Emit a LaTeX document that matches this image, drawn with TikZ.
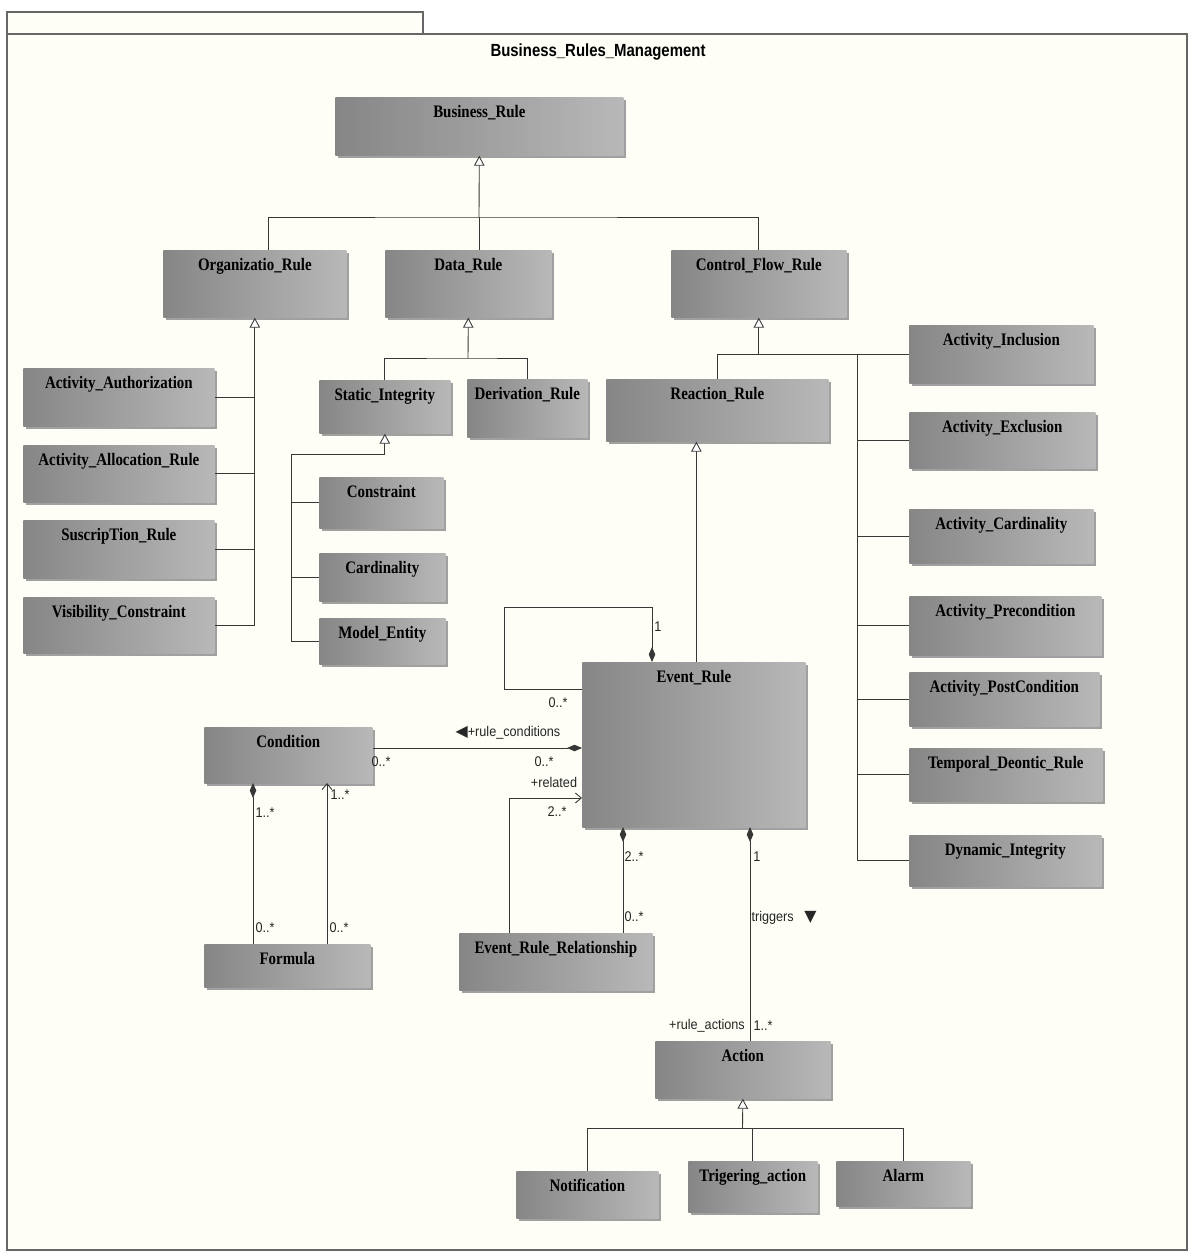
\documentclass[tikz,border=0pt]{standalone}
\usepackage{fontspec}
\usepackage{tikz}
\usetikzlibrary{arrows.meta}
\usetikzlibrary{shadows}

\newfontfamily\boxfont[FakeStretch=0.85]{Liberation Serif}
\newfontfamily\mulfont[FakeStretch=0.9]{Liberation Sans}
\newfontfamily\titlefont[FakeStretch=0.85]{Liberation Sans}
\newfontfamily\symfont{DejaVu Sans}

\definecolor{pagebg}{RGB}{254,254,246}
\definecolor{boxdark}{RGB}{134,134,134}
\definecolor{boxlight}{RGB}{184,184,184}
\definecolor{boxshade}{RGB}{160,160,160}
\definecolor{linegray}{RGB}{55,55,55}

\begin{document}
\begin{tikzpicture}[x=0.02cm,y=-0.02cm,
  cls/.style={rectangle, inner sep=0pt, anchor=north west, left color=boxdark, right color=boxlight,
    general shadow={fill=boxshade, shadow xshift=0.05cm, shadow yshift=-0.06cm}},
  lab/.style={anchor=north, inner sep=1.5pt, yshift=-3pt, font=\boxfont\bfseries\fontsize{10}{12}\selectfont},
  con/.style={draw=linegray, line width=0.5pt},
  inh/.style={con, -{Triangle[open, length=0.2cm, width=0.21cm, fill=white]}},
  comp/.style={con, {Diamond[length=0.3cm, width=0.13cm, fill=linegray]}-},
  nav/.style={con, -{Straight Barb[length=0.12cm, width=0.2cm]}},
  mult/.style={font=\mulfont\fontsize{8}{10}\selectfont, inner sep=0pt, text=black!85}]
\useasboundingbox (0,0) rectangle (1189,1256);
\fill[white] (0,0) rectangle (1189,1256);
% package frame
\filldraw[fill=pagebg, draw=gray!80!black, line width=0.6pt] (7,12) rectangle (423,34);
\filldraw[fill=pagebg, draw=gray!80!black, line width=0.6pt] (7,34) rectangle (1187,1250);
\node[font=\titlefont\bfseries\fontsize{10}{12}\selectfont] (title) at (598,52) {Business\_Rules\_Management};

\node[cls, minimum width=5.76cm, minimum height=1.16cm, label={[lab]north:Business\_Rule}] (brule) at (335,97) {};
\node[cls, minimum width=3.66cm, minimum height=1.34cm, label={[lab]north:Organizatio\_Rule}] (orgrule) at (163,250) {};
\node[cls, minimum width=3.32cm, minimum height=1.34cm, label={[lab]north:Data\_Rule}] (datarule) at (385,250) {};
\node[cls, minimum width=3.50cm, minimum height=1.34cm, label={[lab]north:Control\_Flow\_Rule}] (cfrule) at (671,250) {};
\node[cls, minimum width=3.82cm, minimum height=1.16cm, label={[lab]north:Activity\_Authorization}] (actauth) at (23,368) {};
\node[cls, minimum width=3.82cm, minimum height=1.14cm, label={[lab]north:Activity\_Allocation\_Rule}] (actalloc) at (23,445) {};
\node[cls, minimum width=3.82cm, minimum height=1.16cm, label={[lab]north:SuscripTion\_Rule}] (suscrip) at (23,520) {};
\node[cls, minimum width=3.82cm, minimum height=1.12cm, label={[lab]north:Visibility\_Constraint}] (visib) at (23,597) {};
\node[cls, minimum width=2.62cm, minimum height=1.06cm, label={[lab]north:Static\_Integrity}] (staticint) at (319,380) {};
\node[cls, minimum width=2.40cm, minimum height=1.16cm, label={[lab]north:Derivation\_Rule}] (derivrule) at (467,379) {};
\node[cls, minimum width=2.48cm, minimum height=1.02cm, label={[lab]north:Constraint}] (constraint) at (319,477) {};
\node[cls, minimum width=2.52cm, minimum height=0.96cm, label={[lab]north:Cardinality}] (cardin) at (319,553) {};
\node[cls, minimum width=2.52cm, minimum height=0.92cm, label={[lab]north:Model\_Entity}] (modelent) at (319,618) {};
\node[cls, minimum width=4.44cm, minimum height=1.24cm, label={[lab]north:Reaction\_Rule}] (reactrule) at (606,379) {};
\node[cls, minimum width=3.68cm, minimum height=1.16cm, label={[lab]north:Activity\_Inclusion}] (actincl) at (909,325) {};
\node[cls, minimum width=3.72cm, minimum height=1.12cm, label={[lab]north:Activity\_Exclusion}] (actexcl) at (909,412) {};
\node[cls, minimum width=3.68cm, minimum height=1.08cm, label={[lab]north:Activity\_Cardinality}] (actcard) at (909,509) {};
\node[cls, minimum width=3.84cm, minimum height=1.18cm, label={[lab]north:Activity\_Precondition}] (actpre) at (909,596) {};
\node[cls, minimum width=3.80cm, minimum height=1.08cm, label={[lab]north:Activity\_PostCondition}] (actpost) at (909,672) {};
\node[cls, minimum width=3.86cm, minimum height=1.06cm, label={[lab]north:Temporal\_Deontic\_Rule}] (tempdeon) at (909,748) {};
\node[cls, minimum width=3.84cm, minimum height=1.02cm, label={[lab]north:Dynamic\_Integrity}] (dynint) at (909,835) {};
\node[cls, minimum width=4.46cm, minimum height=3.30cm, label={[lab]north:Event\_Rule}] (eventrule) at (582,662) {};
\node[cls, minimum width=3.36cm, minimum height=1.12cm, label={[lab]north:Condition}] (condition) at (204,727) {};
\node[cls, minimum width=3.32cm, minimum height=0.86cm, label={[lab]north:Formula}] (formula) at (204,944) {};
\node[cls, minimum width=3.86cm, minimum height=1.14cm, label={[lab]north:Event\_Rule\_Relationship}] (errel) at (459,933) {};
\node[cls, minimum width=3.50cm, minimum height=1.14cm, label={[lab]north:Action}] (action) at (655,1041) {};
\node[cls, minimum width=2.84cm, minimum height=0.94cm, label={[lab]north:Notification}] (notif) at (516,1171) {};
\node[cls, minimum width=2.58cm, minimum height=1.02cm, label={[lab]north:Trigering\_action}] (trigact) at (688,1161) {};
\node[cls, minimum width=2.68cm, minimum height=0.90cm, label={[lab]north:Alarm}] (alarm) at (836,1161) {};

% generalisations
\coordinate (brj) at (479,217);
\draw[inh] (brj) -- (brule.south);
\draw[con] ([xshift=0.27cm]orgrule.north) |- (brj) -| (cfrule.north);
\draw[con] (datarule.north -| brj) -- (brj);

\coordinate (orgj) at (orgrule.south |- visib.east);
\draw[inh] (orgj) -- (orgrule.south);
\draw[con] (visib.east) -- (orgj);
\draw[con] (actauth.east) -- (actauth.east -| orgj);
\draw[con] (actalloc.east) -- (actalloc.east -| orgj);
\draw[con] (suscrip.east) -- (suscrip.east -| orgj);

\coordinate (drj) at (468,358);
\draw[inh] (drj) -- (datarule.south);
\draw[con] (staticint.north) |- (drj) -| (derivrule.north);

\coordinate (sij) at (291,454);
\draw[inh] (sij) -| (staticint.south);
\draw[con] (sij) |- (modelent.west);
\draw[con] (constraint.west) -- (constraint.west -| sij);
\draw[con] (cardin.west) -- (cardin.west -| sij);

\coordinate (cfj) at (cfrule.south |- actincl.west);
\coordinate (cfv) at (857,354);
\draw[inh] (cfj) -- (cfrule.south);
\draw[con] (reactrule.north) |- (cfj) -- (actincl.west);
\draw[con] (cfv) |- (dynint.west);
\draw[con] (actexcl.west) -- (actexcl.west -| cfv);
\draw[con] (actcard.west) -- (actcard.west -| cfv);
\draw[con] (actpre.west) -- (actpre.west -| cfv);
\draw[con] (actpost.west) -- (actpost.west -| cfv);
\draw[con] (tempdeon.west) -- (tempdeon.west -| cfv);

\coordinate (rrin) at ([xshift=-0.42cm]reactrule.south);
\draw[inh] (rrin |- eventrule.north) -- (rrin);

\coordinate (acj) at (742.5,1128);
\draw[inh] (acj) -- (action.south);
\draw[con] (notif.north) |- (acj) -| (alarm.north);
\draw[con] (trigact.north) -- (trigact.north |- acj);

% associations
\coordinate (loopa) at (652,607);
\coordinate (loopb) at (504,689);
\draw[comp] (eventrule.north -| loopa) -- (loopa) -| (loopb) -- (eventrule.west |- loopb);
\node[mult] (looptop) at (658,627) {1};
\node[mult] (loopend) at (558,703) {0..*};

\coordinate (rcon) at (582,748);
\draw[comp] (rcon) -- (rcon -| condition.east);
\node[mult] (rcname) at (508,733) {{\symfont\fontsize{9}{10}\selectfont ◀}+rule\_conditions};
\node[mult] (rccond) at (381,762) {0..*};
\node[mult] (rcevent) at (544,762) {0..*};

\coordinate (fca) at (253,783);
\coordinate (fcb) at (327,783);
\draw[comp] (fca) -- (fca |- formula.north);
\draw[nav] (fcb |- formula.north) -- (fcb);
\node[mult] (fcatop) at (265,813) {1..*};
\node[mult] (fcabot) at (265,928) {0..*};
\node[mult] (fcbtop) at (340,795) {1..*};
\node[mult] (fcbbot) at (339,928) {0..*};

\coordinate (relj) at (509,798);
\draw[nav] (relj |- errel.north) -- (relj) -- (relj -| eventrule.west);
\node[mult] (relname) at (554,782) {+related};
\node[mult] (relmult) at (557,812) {2..*};

\coordinate (errj) at (623,827);
\draw[comp] (errj) -- (errj |- errel.north);
\node[mult] (errtop) at (634,857) {2..*};
\node[mult] (errbot) at (634,917) {0..*};

\coordinate (trj) at (750,827);
\draw[comp] (trj) -- (trj |- action.north);
\node[mult] (trtop) at (757,857) {1};
\node[mult] (trname) at (784,918) {triggers\hspace{6pt}{\symfont\fontsize{9}{10}\selectfont ▼}};
\node[mult] (trrole) at (707,1026) {+rule\_actions};
\node[mult] (trbot) at (763,1026) {1..*};
\end{tikzpicture}
\end{document}
